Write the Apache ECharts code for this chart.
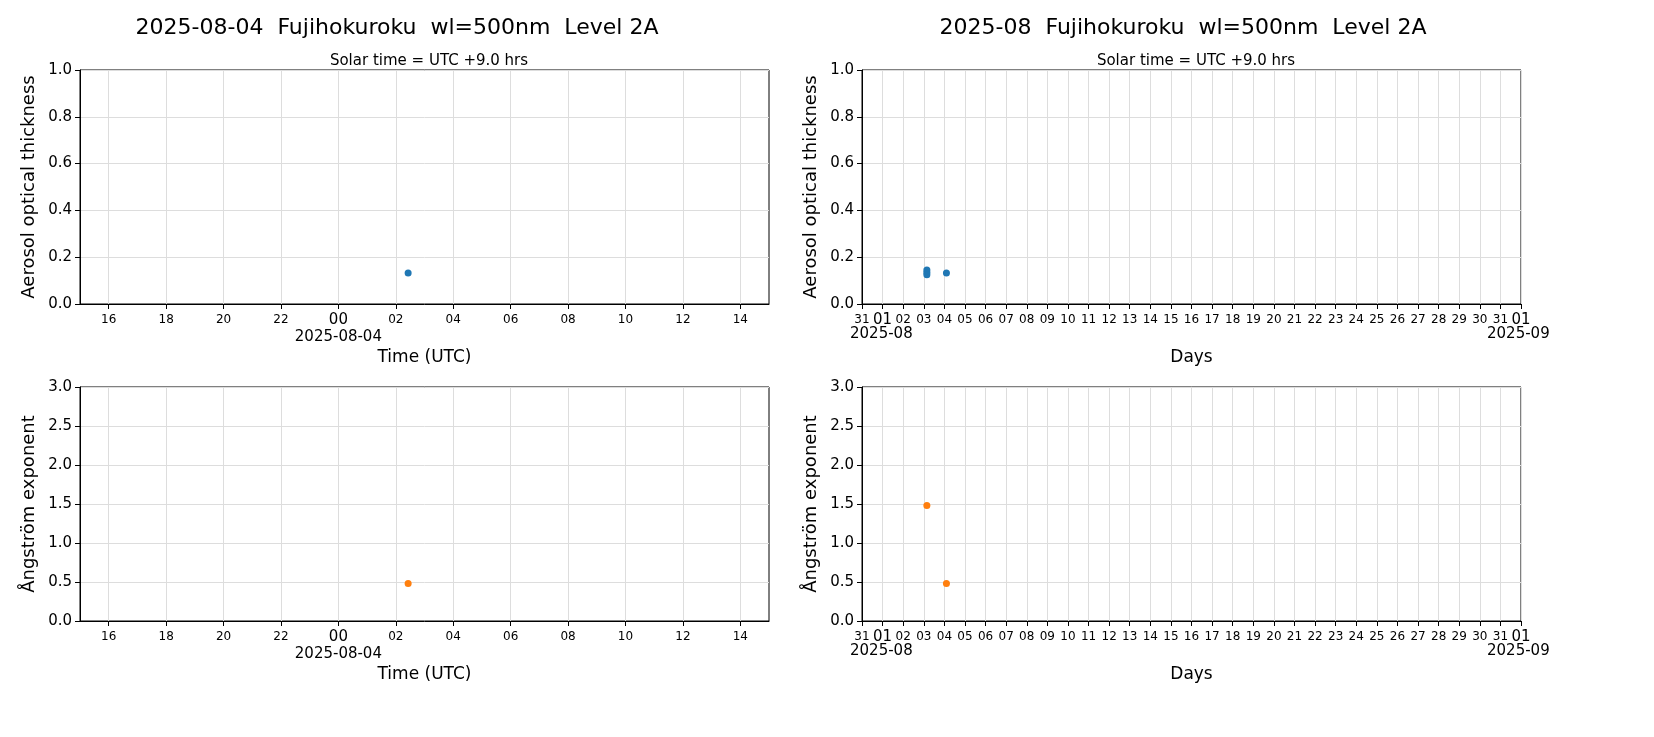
<!DOCTYPE html>
<html><head><meta charset="utf-8">
<script src="https://cdn.jsdelivr.net/npm/echarts@6/dist/echarts.min.js"></script>
<style>html,body{margin:0;background:#fff}#chart{width:1654px;height:737px}</style>
</head><body><div id="chart"></div>
<script>
// daily panel: hours relative to 2025-08-04 00:00 UTC
var dayAotHours = [2.43];
var dayAotValues = [0.133];
var dayAeHours = [2.43];
var dayAeValues = [0.48];
// monthly panel: day of August (fractional, UTC)
var monAotDays = [3.15, 3.15, 3.15, 4.10];
var monAotValues = [0.145, 0.135, 0.125, 0.133];
var monAeDays = [3.15, 4.10];
var monAeValues = [1.48, 0.48];
var hourTicks = [-8,-6,-4,-2,0,2,4,6,8,10,12,14];

var myChart = echarts.init(document.getElementById('chart'));
var FONT = 'DejaVu Sans';
function pad(n){ return (n<10?'0':'')+n; }
function hourLabel(v){
    var h = ((v % 24) + 24) % 24;
    if(v === 0) return '{big|00}\n{d|2025-08-04}';
    return pad(h);
}
function dayLabel(v){
    if(v === 0) return '31';
    if(v === 1 || v === 32) return '{big|01}';
    return pad(v);
}
var rich = {big:{fontSize:15,fontFamily:FONT,color:'#000'}, d:{fontSize:15,fontFamily:FONT,color:'#000',padding:[2,0,0,0]}};
var grids = [
    {left:80, right:885, top:70, height:234},
    {left:80, right:885, top:387, height:234},
    {left:862, right:133, top:70, height:234},
    {left:862, right:133, top:387, height:234}
];
grids.forEach(function(g){ g.show=true; g.borderColor='#000'; g.borderWidth=1; g.backgroundColor='transparent'; });

function xHour(i){
    return {type:'value', gridIndex:i, min:-9, max:15,
        name:'Time (UTC)', nameLocation:'middle', nameGap:45,
        nameTextStyle:{fontSize:17,fontFamily:FONT,color:'#000'},
        axisLine:{onZero:false, lineStyle:{color:'#000'}},
        axisTick:{show:true, customValues:hourTicks, lineStyle:{color:'#000'}},
        axisLabel:{customValues:hourTicks, formatter:hourLabel, fontSize:12, fontFamily:FONT, color:'#000', rich:rich, verticalAlign:'top', lineHeight:16},
        splitLine:{show:true, lineStyle:{color:'#dddddd'}}};
}
function xDay(i){
    return {type:'value', gridIndex:i, min:0, max:32, interval:1,
        name:'Days', nameLocation:'middle', nameGap:45,
        nameTextStyle:{fontSize:17,fontFamily:FONT,color:'#000'},
        axisLine:{onZero:false, lineStyle:{color:'#000'}},
        axisTick:{show:true, lineStyle:{color:'#000'}},
        axisLabel:{formatter:dayLabel, fontSize:12, fontFamily:FONT, color:'#000', rich:rich, showMinLabel:true, showMaxLabel:true, hideOverlap:false, interval:0, verticalAlign:'top', lineHeight:16},
        splitLine:{show:true, lineStyle:{color:'#dddddd'}}};
}
function yAxis(i, name, max, step){
    return {type:'value', gridIndex:i, min:0, max:max, interval:step,
        name:name, nameLocation:'middle', nameGap:42,
        nameTextStyle:{fontSize:18,fontFamily:FONT,color:'#000'},
        axisLine:{show:true, onZero:false, lineStyle:{color:'#000'}},
        axisTick:{show:true, lineStyle:{color:'#000'}},
        axisLabel:{fontSize:15, fontFamily:FONT, color:'#000', formatter:function(v){return v.toFixed(1);}},
        splitLine:{show:true, lineStyle:{color:'#dddddd'}}};
}
function pts(xs, ys){ return xs.map(function(x,i){ return [x, ys[i]]; }); }
function sc(i, data, color){
    return {type:'scatter', xAxisIndex:i, yAxisIndex:i, data:data, symbolSize:7, itemStyle:{color:color, opacity:1}};
}
function dateText(x, y, t){
    return {type:'text', left:x, top:y, style:{text:t, font:'15px "DejaVu Sans"', fill:'#000', textAlign:'center'}};
}
var option = {
    animation:false,
    title:[
        {text:'2025-08-04  Fujihokuroku  wl=500nm  Level 2A', left:392, top:12, textAlign:'center', textStyle:{fontSize:22,fontWeight:'normal',fontFamily:FONT,color:'#000'}},
        {text:'2025-08  Fujihokuroku  wl=500nm  Level 2A', left:1178, top:12, textAlign:'center', textStyle:{fontSize:22,fontWeight:'normal',fontFamily:FONT,color:'#000'}},
        {text:'Solar time = UTC +9.0 hrs', left:424, top:49, textAlign:'center', textStyle:{fontSize:15,fontWeight:'normal',fontFamily:FONT,color:'#000'}},
        {text:'Solar time = UTC +9.0 hrs', left:1191, top:49, textAlign:'center', textStyle:{fontSize:15,fontWeight:'normal',fontFamily:FONT,color:'#000'}}
    ],
    graphic:[
        dateText(850, 327, '2025-08'), dateText(1487, 327, '2025-09'),
        dateText(850, 644, '2025-08'), dateText(1487, 644, '2025-09')
    ],
    grid:grids,
    xAxis:[xHour(0), xHour(1), xDay(2), xDay(3)],
    yAxis:[
        yAxis(0,'Aerosol optical thickness',1,0.2),
        yAxis(1,'Ångström exponent',3,0.5),
        yAxis(2,'Aerosol optical thickness',1,0.2),
        yAxis(3,'Ångström exponent',3,0.5)
    ],
    series:[
        sc(0, pts(dayAotHours, dayAotValues), '#1f77b4'),
        sc(1, pts(dayAeHours, dayAeValues), '#ff7f0e'),
        sc(2, pts(monAotDays, monAotValues), '#1f77b4'),
        sc(3, pts(monAeDays, monAeValues), '#ff7f0e')
    ]
};
myChart.setOption(option);
</script></body></html>
